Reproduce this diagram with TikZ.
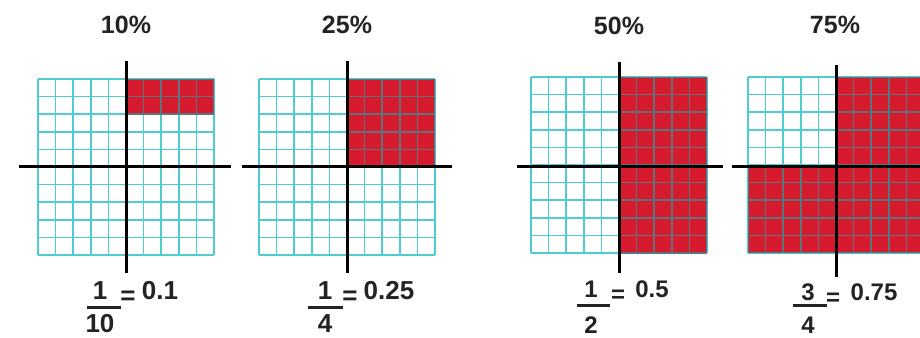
\documentclass[tikz,border=0pt]{standalone}
\usepackage{fontspec}
\setmainfont{Liberation Sans}
\definecolor{redc}{RGB}{214,27,46}
\definecolor{gridc}{RGB}{80,203,210}
\definecolor{gridr}{RGB}{95,115,125}
\definecolor{txt}{RGB}{35,35,35}
\newcommand{\mygrid}[3]{%
  \foreach \i in {0,...,10} {
    \draw[#3] ({#1+\i*17.6},#2) -- ({#1+\i*17.6},{#2+176});
    \draw[#3] (#1,{#2+\i*17.6}) -- ({#1+176},{#2+\i*17.6});
  }}
\tikzset{
  gline/.style={gridc, line width=1.5pt},
  rline/.style={gridr, line width=1.5pt},
  axis/.style={black, line width=3pt},
  fbar/.style={txt, line width=3pt},
  title/.style={anchor=base, inner sep=0pt, text=txt, font=\bfseries\fontsize{25}{30}\selectfont},
  numL/.style={anchor=base, inner sep=0pt, text=txt, font=\bfseries\fontsize{26}{30}\selectfont},
  numR/.style={anchor=base, inner sep=0pt, text=txt, font=\bfseries\fontsize{24}{30}\selectfont},
}
\begin{document}
\begin{tikzpicture}[x=1pt, y=-1pt]
\useasboundingbox (0,0) rectangle (920,337);
\clip (0,0) rectangle (920,337);
\fill[white] (0,0) rectangle (920,337);
% red regions
\fill[redc] (126,79) rectangle (214,114.2);
\fill[redc] (347,79) rectangle (435,167);
\fill[redc] (619,77) rectangle (707,253);
\fill[redc] (836,77) rectangle (924,253);
\fill[redc] (748,165) rectangle (836,253);
% grids
\mygrid{38}{79}{gline}
\mygrid{259}{79}{gline}
\mygrid{531}{77}{gline}
\mygrid{748}{77}{gline}
\begin{scope}
  \clip (126,79) rectangle (214,114.2);
  \mygrid{38}{79}{rline}
\end{scope}
\begin{scope}
  \clip (347,79) rectangle (435,167);
  \mygrid{259}{79}{rline}
\end{scope}
\begin{scope}
  \clip (619,77) rectangle (707,253);
  \mygrid{531}{77}{rline}
\end{scope}
\begin{scope}
  \clip (836,77) rectangle (924,253) (748,165) rectangle (836,253);
  \mygrid{748}{77}{rline}
\end{scope}
% axes
\draw[axis] (126,61) -- (126,273);
\draw[axis] (19,166) -- (231,166);
\draw[axis] (347,61) -- (347,273);
\draw[axis] (242,166) -- (452,166);
\draw[axis] (619,62) -- (619,273);
\draw[axis] (517,166) -- (723,166);
\draw[axis] (836,65) -- (836,277);
\draw[axis] (732,166) -- (925,166);
% titles
\node[title] (t1) at (126,34) {10\%};
\node[title] (t2) at (347,34) {25\%};
\node[title] (t3) at (619,35) {50\%};
\node[title] (t4) at (835,34) {75\%};
% fractions
\node[numL] (n1) at (100,299) {1};
\draw[fbar] (87,307) -- (121,307);
\node[numL] (d1) at (100,332) {10};
\node[numL] (e1) at (128,304) {=};
\node[numL] (v1) at (160,299) {0.1};

\node[numL] (n2) at (325,299) {1};
\draw[fbar] (308,307) -- (343,307);
\node[numL] (d2) at (325,332) {4};
\node[numL] (e2) at (350,304) {=};
\node[numL] (v2) at (389,299) {0.25};

\node[numR] (n3) at (591,297) {1};
\draw[fbar] (577,305) -- (610,305);
\node[numR] (d3) at (591,333) {2};
\node[numR] (e3) at (618,302) {=};
\node[numR] (v3) at (652,297) {0.5};

\node[numR] (n4) at (808,300) {3};
\draw[fbar] (793,305) -- (827,305);
\node[numR] (d4) at (808,333) {4};
\node[numR] (e4) at (833,305) {=};
\node[numR] (v4) at (874,300) {0.75};
\end{tikzpicture}
\end{document}
